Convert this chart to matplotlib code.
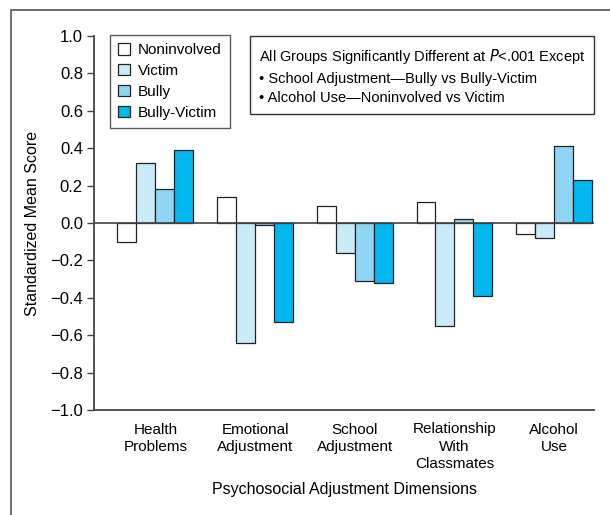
import numpy as np
import matplotlib
matplotlib.use("Agg")
import matplotlib.pyplot as plt
from matplotlib.patches import Rectangle

plt.rcParams['font.family'] = ['Liberation Sans', 'DejaVu Sans']
plt.rcParams['font.size'] = 10.5

# data
dimensions = ["Health\nProblems", "Emotional\nAdjustment", "School\nAdjustment",
              "Relationship\nWith\nClassmates", "Alcohol\nUse"]
groups = ["Noninvolved", "Victim", "Bully", "Bully-Victim"]
noninvolved = [-0.10, 0.14, 0.09, 0.11, -0.06]
victim = [0.32, -0.64, -0.16, -0.55, -0.08]
bully = [0.18, -0.01, -0.31, 0.02, 0.41]
bully_victim = [0.39, -0.53, -0.32, -0.39, 0.23]
colors = ["#ffffff", "#c9eaf8", "#8fd6f5", "#00b8ef"]
yticks = [-1.0, -0.8, -0.6, -0.4, -0.2, 0.0, 0.2, 0.4, 0.6, 0.8, 1.0]

fig = plt.figure(figsize=(6.1, 5.15), dpi=100)
# outer frame
fig.add_artist(Rectangle((11 / 610, -0.01), 0.99, 1 - 10 / 515 + 0.01,
                         transform=fig.transFigure, fill=False,
                         edgecolor="#555555", lw=1.2))

ax = fig.add_axes([94 / 610, 1 - 410 / 515, 500 / 610, 374 / 515])

x = np.arange(len(dimensions))
w = 0.19
series = [noninvolved, victim, bully, bully_victim]
for i, (vals, name) in enumerate(zip(series, groups)):
    ax.bar(x + (i - 1.5) * w, vals, w, color=colors[i], edgecolor="#222222",
           linewidth=0.9, label=name, zorder=2)

ax.axhline(0, color="#444444", lw=1.2, zorder=3)
ax.set_xlim(-0.615, 4.4)
ax.set_ylim(-1.0, 1.0)
ax.set_yticks(yticks)
ax.set_yticklabels([f"{v:.1f}".replace("-", "\u2212") if v != 0 else "0.0" for v in yticks])
ax.set_xticks(x)
ax.set_xticklabels(dimensions, va="top", linespacing=1.3, fontsize=11)
ax.tick_params(axis="x", length=0, pad=9)
ax.tick_params(axis="y", length=5, width=1, color="#444444", direction="out",
               labelsize=12, pad=3)
for s in ["top", "right"]:
    ax.spines[s].set_visible(False)
for s in ["left", "bottom"]:
    ax.spines[s].set_color("#444444")
    ax.spines[s].set_linewidth(1.3)

ax.set_ylabel("Standardized Mean Score", labelpad=7, fontsize=11.5)
ax.set_xlabel("Psychosocial Adjustment Dimensions", labelpad=8, fontsize=11.5)

leg = ax.legend(loc="upper left", bbox_to_anchor=(16 / 500, 1.003),
                frameon=True, fancybox=False, edgecolor="#333333", fontsize=11,
                handlelength=0.75, handleheight=0.75, handletextpad=0.5,
                borderpad=0.55, labelspacing=0.45, borderaxespad=0)
leg.get_frame().set_linewidth(1.0)

note = ("All Groups Significantly Different at $\\it{P}$<.001 Except\n"
        "\u2022 School Adjustment\u2014Bully vs Bully-Victim\n"
        "\u2022 Alcohol Use\u2014Noninvolved vs Victim")
ax.text(165 / 500, 0.97, note, transform=ax.transAxes, va="top", ha="left",
        linespacing=1.5, fontsize=10.5,
        bbox=dict(boxstyle="square,pad=0.6", fc="white", ec="#333333", lw=1.0))

fig.savefig("out.png", dpi=100)
